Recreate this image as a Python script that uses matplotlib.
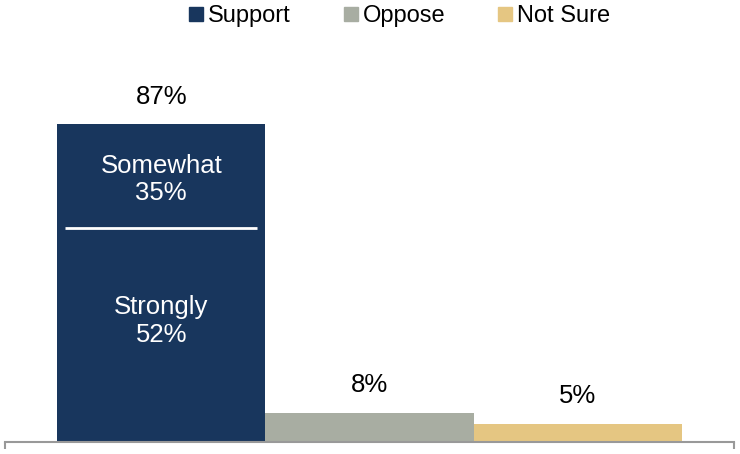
import matplotlib.pyplot as plt
from matplotlib.lines import Line2D

plt.rcParams['font.family'] = ['Liberation Sans', 'DejaVu Sans']

categories = ['Support', 'Oppose', 'Not Sure']
totals = [87, 8, 5]
colors = ['#18365D', '#A8ADA2', '#E5C682']

# breakdown inside the support bar
strongly = 52
somewhat = 35

FS = 18.5

fig = plt.figure(figsize=(7.4, 4.54), dpi=100)
ax = fig.add_axes([5 / 740, 12 / 454, 729 / 740, 442 / 454])

x = range(len(categories))
bars = ax.bar(x, totals, width=1.0, color=colors)

for i, v in enumerate(totals):
    ax.annotate(f'{v}%', (i, v), xytext=(0, 11), textcoords='offset points',
                ha='center', va='bottom', fontsize=FS, color='black')

# split of the support bar
ax.text(0, 71.8, f'Somewhat\n{somewhat}%', ha='center', va='center',
        fontsize=FS, color='white', linespacing=1.2)
ax.text(0, 33.1, f'Strongly\n{strongly}%', ha='center', va='center',
        fontsize=FS, color='white', linespacing=1.2)
ax.hlines(58.5, -0.46, 0.46, colors='white', linewidth=2)

ax.set_xlim(-0.75, 2.75)
ax.set_ylim(0, 120.9)
for s in ['top', 'left', 'right']:
    ax.spines[s].set_visible(False)
ax.spines['bottom'].set_color('#999999')
ax.spines['bottom'].set_linewidth(1.5)
ax.set_yticks([])
ax.set_xticks([-0.75, 2.75])
ax.set_xticklabels(['', ''])
ax.tick_params(axis='x', direction='out', length=5, width=1.5, color='#999999')

handles = [Line2D([], [], marker='s', linestyle='none', markersize=10,
                  markerfacecolor=c, markeredgecolor=c) for c in colors]
fig.legend(handles, categories, loc='center', bbox_to_anchor=(399 / 740, 1 - 16 / 454),
           ncol=3, frameon=False, fontsize=17, handlelength=0.7,
           handletextpad=0.15, columnspacing=2.2, borderaxespad=0)

fig.savefig('out.png', dpi=100)
